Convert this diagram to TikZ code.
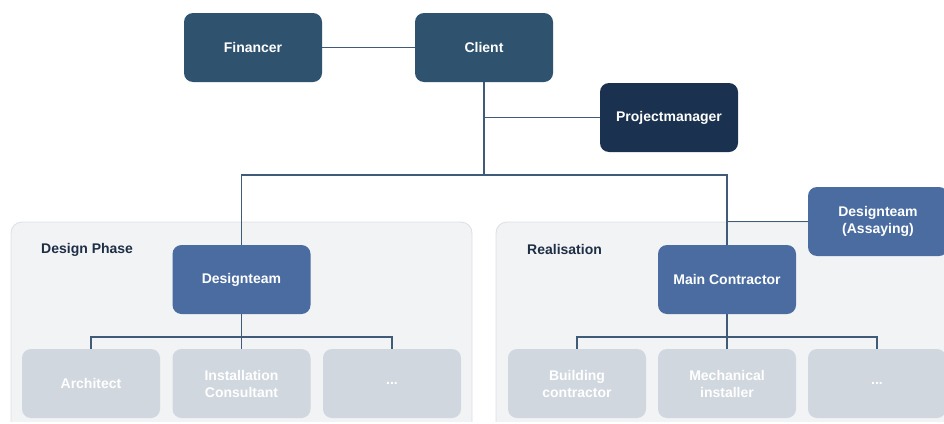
\documentclass[tikz,border=0pt]{standalone}
\usepackage{fontspec}
\setmainfont{Liberation Sans}
\begin{document}
\definecolor{topblue}{HTML}{2F526F}
\definecolor{pmblue}{HTML}{1B3150}
\definecolor{teamblue}{HTML}{4A6CA0}
\definecolor{greybox}{HTML}{D1D7DF}
\definecolor{panelfill}{HTML}{F2F3F5}
\definecolor{panelline}{HTML}{DCDFE3}
\definecolor{linkcol}{HTML}{3F5B78}
\definecolor{labelcol}{HTML}{1E2F45}
\begin{tikzpicture}[x=1pt,y=-1pt,
  box/.style={rounded corners=9pt, minimum width=138pt, minimum height=69pt,
    inner sep=0pt, align=center, text=white,
    font=\fontsize{14}{17}\selectfont\bfseries},
  topbox/.style={box, fill=topblue},
  pmbox/.style={box, fill=pmblue},
  teambox/.style={box, fill=teamblue},
  subbox/.style={box, fill=greybox},
  panel/.style={rounded corners=11pt, fill=panelfill, draw=panelline, line width=0.8pt},
  panellabel/.style={anchor=west, inner sep=0pt, text=labelcol,
    font=\fontsize{14}{17}\selectfont\bfseries},
  link/.style={draw=linkcol, line width=1.2pt}]
\useasboundingbox (0,0) rectangle (944,423);
\begin{scope}
\clip (0,0) rectangle (944,421);
% phase panels
\path[panel] (11,222) rectangle (472,440);
\path[panel] (496,222) rectangle (970,440);
\end{scope}
\node[panellabel] (lbldesign) at (41,249.5) {Design Phase};
\node[panellabel] (lblreal) at (527,249.5) {Realisation};

% management level
\node[topbox] (fin) at (253,47.5) {Financer};
\node[topbox] (cli) at (484,47.5) {Client};
\node[pmbox] (pm) at (669,117.5) {Projectmanager};

% teams
\node[teambox] (dt) at (241.5,279.5) {Designteam};
\node[teambox] (mc) at (727,279.5) {Main Contractor};
\node[teambox, minimum width=140pt] (dta) at (878,221.5) {Designteam\\(Assaying)};

% sub parties
\node[subbox] (arch) at (91,383.5) {Architect};
\node[subbox] (inst) at (241.5,383.5) {Installation\\Consultant};
\node[subbox] (dmore) at (392,383.5) {...};
\node[subbox] (build) at (577,383.5) {Building\\contractor};
\node[subbox] (mech) at (727,383.5) {Mechanical\\installer};
\node[subbox] (rmore) at (877,383.5) {...};

% connectors
\coordinate (split) at (484,175);
\coordinate (dsplit) at (241.5,337);
\coordinate (rsplit) at (727,337);
\draw[link] (fin) -- (cli);
\draw[link] (cli.south) -- (split);
\draw[link] (cli.south |- pm.west) -- (pm.west);
\draw[link] (dt.north) |- (split) -| (mc.north);
\draw[link] (mc.north |- dta.west) -- (dta.west);
\draw[link] (dt.south) -- (inst.north);
\draw[link] (arch.north) |- (dsplit) -| (dmore.north);
\draw[link] (mc.south) -- (mech.north);
\draw[link] (build.north) |- (rsplit) -| (rmore.north);
\end{tikzpicture}
\end{document}
